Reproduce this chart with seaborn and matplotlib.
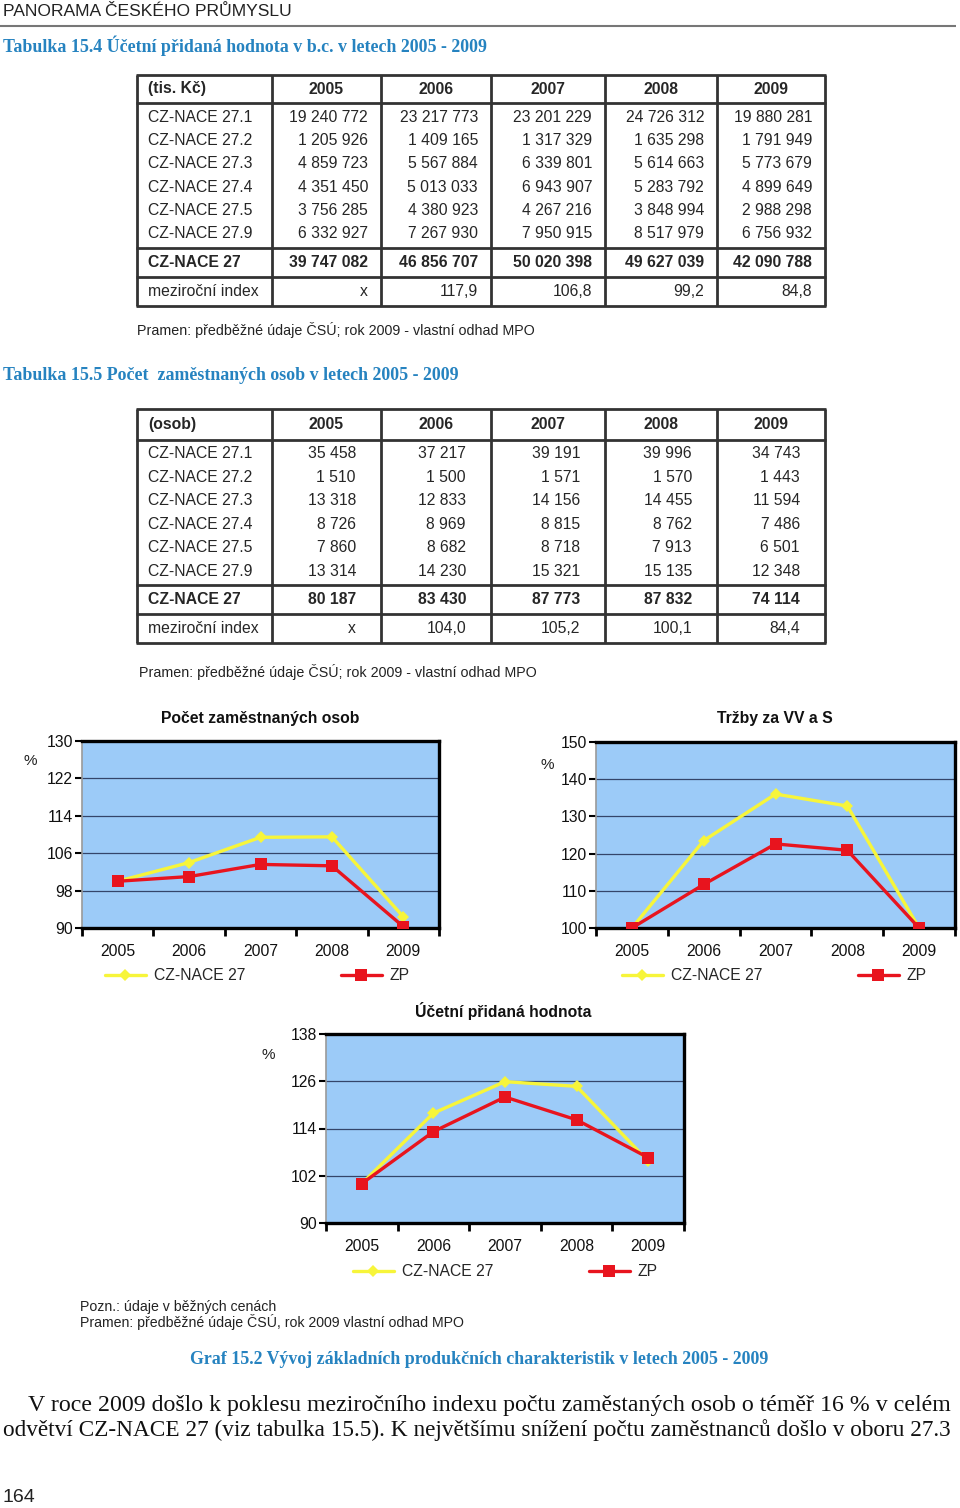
import numpy as np
import pandas as pd
import seaborn as sns
import matplotlib
matplotlib.use("Agg")
import matplotlib.pyplot as plt

# ---- data ----
years = ["2005", "2006", "2007", "2008", "2009"]
rows_t1 = ["CZ-NACE 27.1", "CZ-NACE 27.2", "CZ-NACE 27.3", "CZ-NACE 27.4", "CZ-NACE 27.5", "CZ-NACE 27.9"]
vals_t1 = [
    ["19 240 772", "23 217 773", "23 201 229", "24 726 312", "19 880 281"],
    ["1 205 926", "1 409 165", "1 317 329", "1 635 298", "1 791 949"],
    ["4 859 723", "5 567 884", "6 339 801", "5 614 663", "5 773 679"],
    ["4 351 450", "5 013 033", "6 943 907", "5 283 792", "4 899 649"],
    ["3 756 285", "4 380 923", "4 267 216", "3 848 994", "2 988 298"],
    ["6 332 927", "7 267 930", "7 950 915", "8 517 979", "6 756 932"],
]
total_t1 = ["39 747 082", "46 856 707", "50 020 398", "49 627 039", "42 090 788"]
index_t1 = ["x", "117,9", "106,8", "99,2", "84,8"]

rows_t2 = rows_t1
vals_t2 = [
    ["35 458", "37 217", "39 191", "39 996", "34 743"],
    ["1 510", "1 500", "1 571", "1 570", "1 443"],
    ["13 318", "12 833", "14 156", "14 455", "11 594"],
    ["8 726", "8 969", "8 815", "8 762", "7 486"],
    ["7 860", "8 682", "8 718", "7 913", "6 501"],
    ["13 314", "14 230", "15 321", "15 135", "12 348"],
]
total_t2 = ["80 187", "83 430", "87 773", "87 832", "74 114"]
index_t2 = ["x", "104,0", "105,2", "100,1", "84,4"]

# chart series (% , 2005 = 100)
emp_nace = [100.0, 104.0, 109.4, 109.5, 92.4]
emp_zp = [100.0, 101.0, 103.6, 103.3, 90.3]
sales_nace = [100.0, 123.5, 136.0, 132.8, 100.0]
sales_zp = [100.0, 111.7, 122.6, 120.9, 100.0]
va_nace = [100.0, 117.9, 125.9, 124.7, 105.7]
va_zp = [100.0, 113.2, 122.0, 116.2, 106.6]

W, H = 960, 1508
BLUE = "#2683c0"
YELLOW = "#f7f53a"
RED = "#e8141e"
BG = "#9ccbf8"

sns.set_theme(style="white")
plt.rcParams["font.family"] = ["Liberation Sans", "DejaVu Sans"]

fig = plt.figure(figsize=(W / 100, H / 100), dpi=100)
page = fig.add_axes([0, 0, 1, 1])
page.set_xlim(0, W)
page.set_ylim(H, 0)
page.axis("off")


def txt(x, y, s, size=11.3, **kw):
    kw.setdefault("va", "center")
    page.text(x, y, s, fontsize=size, **kw)


def hline(y, x0, x1, lw=2, c="#333333"):
    page.plot([x0, x1], [y, y], color=c, lw=lw, solid_capstyle="butt")


def vline(x, y0, y1, lw=2, c="#333333"):
    page.plot([x, x], [y0, y1], color=c, lw=lw, solid_capstyle="butt")


# ---- page header ----
txt(3, 11, "PANORAMA ČESKÉHO PRŮMYSLU", size=12.6, color="#222222")
hline(26, 0, 956, lw=1.5, c="#777777")


def table(top, hdr_h, head, rows, vals, total, index, rh, num_right_pad):
    cols = [137, 272, 381, 491, 605, 717, 825]
    y_hdr_end = top + hdr_h
    y_data_end = y_hdr_end + 6 * rh + 5
    y_tot_end = y_data_end + 29
    bottom = y_tot_end + 29
    for y in [top, y_hdr_end, y_data_end, y_tot_end, bottom]:
        hline(y, cols[0] - 1, cols[-1] + 1)
    for x in cols:
        vline(x, top, bottom)
    txt(cols[0] + 11, (top + y_hdr_end) / 2, head, weight="bold")
    for j, yr in enumerate(years):
        txt((cols[j + 1] + cols[j + 2]) / 2, (top + y_hdr_end) / 2, yr,
            weight="bold", ha="center")
    for i, r in enumerate(rows):
        y = y_hdr_end + 14 + i * rh
        txt(cols[0] + 11, y, r)
        for j, v in enumerate(vals[i]):
            txt(cols[j + 2] - num_right_pad, y, v, ha="right")
    yt = (y_data_end + y_tot_end) / 2
    yi = (y_tot_end + bottom) / 2
    txt(cols[0] + 11, yt, "CZ-NACE 27", weight="bold")
    txt(cols[0] + 11, yi, "meziroční index")
    for j in range(5):
        txt(cols[j + 2] - num_right_pad, yt, total[j], weight="bold", ha="right")
        txt(cols[j + 2] - num_right_pad, yi, index[j], ha="right")


serif_b = dict(family=["Liberation Serif", "DejaVu Serif"], weight="bold", color=BLUE)

txt(3, 46, "Tabulka 15.4 Účetní přidaná hodnota v b.c. v letech 2005 - 2009", size=12.9, **serif_b)
table(75, 28, "(tis. Kč)", rows_t1, vals_t1, total_t1, index_t1, 23.4, 13)
txt(137, 330, "Pramen: předběžné údaje ČSÚ; rok 2009 - vlastní odhad MPO", size=10.3, color="#222222")

txt(3, 376, "Tabulka 15.5 Počet  zaměstnaných osob v letech 2005 - 2009", size=12.9, **serif_b)
table(409, 31, "(osob)", rows_t2, vals_t2, total_t2, index_t2, 23.4, 25)
txt(139, 672, "Pramen: předběžné údaje ČSÚ; rok 2009 - vlastní odhad MPO", size=10.3, color="#222222")


# ---- charts ----
legs = []


def chart(box, nace, zp, ylim, yticks, title, title_x, pct_xy, leg_xy):
    x0, y0, x1, y1 = box
    ax = fig.add_axes([x0 / W, 1 - y1 / H, (x1 - x0) / W, (y1 - y0) / H])
    df = pd.DataFrame({
        "rok": years * 2,
        "hodnota": nace + zp,
        "rada": ["CZ-NACE 27"] * 5 + ["ZP"] * 5,
    })
    sns.lineplot(data=df, x="rok", y="hodnota", hue="rada", style="rada",
                 hue_order=["CZ-NACE 27", "ZP"],
                 palette={"CZ-NACE 27": YELLOW, "ZP": RED},
                 markers={"CZ-NACE 27": "D", "ZP": "s"}, dashes=False,
                 lw=2.4, ax=ax, zorder=3)
    for ln in ax.lines:
        if ln.get_color() == RED:
            ln.set_markersize(8)
        else:
            ln.set_markersize(6)
        ln.set_markeredgewidth(0)
    ax.set_facecolor(BG)
    ax.set_xlim(-0.5, 4.5)
    ax.set_ylim(*ylim)
    ax.set_yticks(yticks)
    ax.grid(axis="y", color="#34456a", lw=0.9)
    ax.set_axisbelow(True)
    ax.set_xlabel("")
    ax.set_ylabel("")
    ax.set_xticks(np.arange(-0.5, 5, 1), minor=True)
    ax.tick_params(axis="x", which="major", length=0, pad=11.5, labelsize=11.3, colors="#111111")
    ax.tick_params(axis="x", which="minor", length=6, width=2, direction="out", color="black", bottom=True)
    ax.tick_params(axis="y", length=5, width=1.5, direction="out", color="black", left=True,
                   pad=1.5, labelsize=11.3, labelcolor="#111111")
    for s in ["top", "right", "bottom"]:
        ax.spines[s].set_color("black")
        ax.spines[s].set_linewidth(2.4)
    ax.spines["left"].set_color("#9a9a9a")
    ax.spines["left"].set_linewidth(1.2)
    h, l = ax.get_legend_handles_labels()
    ax.get_legend().remove()
    lx, ly = leg_xy
    lg = page.legend(h, l, loc="center left", bbox_to_anchor=(lx, ly), bbox_transform=page.transData,
                     ncol=2, frameon=False, fontsize=11.3, handlelength=2.6, handletextpad=0.5,
                     columnspacing=6.1, borderpad=0, borderaxespad=0)
    legs.append(lg)
    txt(title_x, y0 - 23, title, size=11.3, weight="bold", ha="center", color="#111111")
    txt(pct_xy[0], pct_xy[1], "%", size=11, ha="center", color="#222222")
    return ax


chart((82, 741, 439, 928), emp_nace, emp_zp, (90, 130), [90, 98, 106, 114, 122, 130],
      "Počet zaměstnaných osob", 260, (30, 761), (105, 976))
chart((596, 742, 955, 928), sales_nace, sales_zp, (100, 150), [100, 110, 120, 130, 140, 150],
      "Tržby za VV a S", 775, (547, 765), (622, 976))
chart((326, 1034, 684, 1223), va_nace, va_zp, (90, 138), [90, 102, 114, 126, 138],
      "Účetní přidaná hodnota", 503, (268, 1055), (353, 1272))
# page.legend replaces the previous one, so add the earlier ones back
for lg in legs[:-1]:
    page.add_artist(lg)

# ---- footer ----
txt(80, 1307, "Pozn.: údaje v běžných cenách", size=10.2, color="#222222")
txt(80, 1322, "Pramen: předběžné údaje ČSÚ, rok 2009 vlastní odhad MPO", size=10.2, color="#222222")
txt(479, 1360, "Graf 15.2 Vývoj základních produkčních charakteristik v letech 2005 - 2009",
    size=12.9, ha="center", **serif_b)

serif = ["Liberation Serif", "DejaVu Serif"]
para = [
    (28, 1406, "V roce 2009 došlo k poklesu meziročního indexu počtu zaměstaných osob o téměř 16 % v celém"),
    (3, 1430, "odvětví CZ-NACE 27 (viz tabulka 15.5). K největšímu snížení počtu zaměstnanců došlo v oboru 27.3"),
]
fig.canvas.draw()
rend = fig.canvas.get_renderer()
for x, y, s in para:
    t = page.text(x, y, s, fontsize=15, family=serif, va="center", color="#111111")
    bb = t.get_window_extent(rend)
    t.set_fontsize(15 * (955 - x) / bb.width)
txt(3, 1498, "164", size=14, color="#222222")

fig.savefig("out.png", dpi=100, facecolor="white")
